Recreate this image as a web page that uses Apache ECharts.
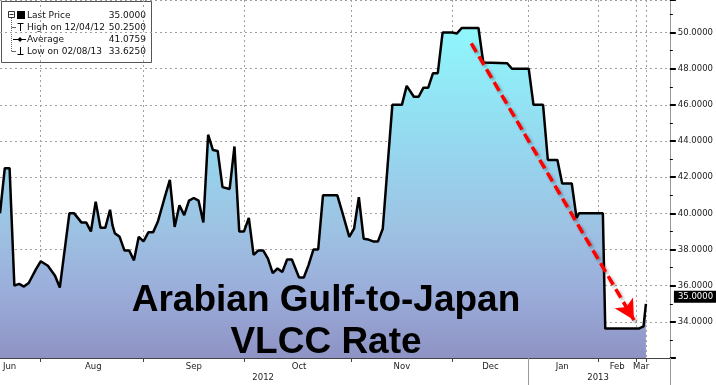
<!DOCTYPE html>
<html>
<head>
<meta charset="utf-8">
<script src="https://cdn.jsdelivr.net/npm/echarts@6/dist/echarts.min.js"></script>
<style>html,body{margin:0;padding:0;background:#fff;}#c{width:716px;height:385px;}</style>
</head>
<body>
<div id="c"></div>
<script>
// observation index along the (irregular) time axis and the rate values
const obsIndex = [0,2,4,6,8,10,12,15,17,20,23,25,29,31,34,36,38,40,42,44,46,47,48,50,52,54,56,58,60,62,64,66,69,71,73,75,77,79,81,83,85,87,89,91,93,96,98,100,102,104,106,108,110,112,114,116,118,120,122,125,127,129,131,133,135,141,143,146,148,150,152,154,156,158,160,162,164,168,170,173,175,177,179,181,183,185,189,191,193,200,202,212,214,221,223,227,229,233,235,239,241,242,252,253,267,269,270];
const rates = [40.0,42.5,42.5,36.0,36.1,35.95,36.15,36.9,37.35,37.1,36.55,35.9,40.0,40.0,39.5,39.5,39.0,40.65,39.2,39.2,40.2,39.35,38.9,38.7,37.95,37.95,37.4,38.7,38.45,38.95,38.95,39.55,40.95,41.85,39.25,40.45,39.9,40.7,40.85,40.7,39.5,44.35,43.5,43.45,41.45,41.35,43.7,39.0,39.0,39.75,37.7,37.95,37.95,37.5,36.7,36.95,36.75,37.45,37.45,36.45,36.45,37.15,38.0,38.0,41.0,41.0,40.1,38.7,39.15,40.9,38.6,38.55,38.45,38.45,39.15,42.6,46.0,46.0,47.05,46.45,46.45,46.95,46.95,47.75,47.75,50.0,50.0,49.95,50.25,50.25,48.35,48.3,48.0,48.0,46.0,46.0,42.95,42.95,41.65,41.65,39.75,40.0,40.0,33.625,33.625,33.75,35.0];
const axisLength = 281;
const monthNames = ['Jun','Aug','Sep','Oct','Nov','Dec','Jan','Feb','Mar'];
const monthLabelIdx = [4,39,81,125,168,205,235,258,268];
const monthBoundaries = [17,60,102,147,189,221,250,266,270];
const yearNames = ['2012','2013'];
const yearLabelIdx = [110,250];
const yearSeparators = [221,280];
const legendLabels = ['Last Price','High on 12/04/12','Average','Low on 02/08/13'];
const legendValues = ['35.0000','50.2500','41.0759','33.6250'];
const arrowFrom = [197, 49.4];
const arrowTo = [265, 34.1];
const titleLines = ['Arabian Gulf-to-Japan','VLCC Rate'];

const categories = Array.from({length: axisLength}, (_, i) => String(i));
const FONT = '"DejaVu Sans", sans-serif';

const chart = echarts.init(document.getElementById('c'), null, {renderer: 'canvas'});

const legendGraphics = [
  {type:'rect', shape:{x:1.5,y:1.5,width:150,height:61}, style:{fill:'#fff', stroke:'#555', lineWidth:1}},
  {type:'rect', shape:{x:8.5,y:11.5,width:6,height:6}, style:{fill:'#fff', stroke:'#333', lineWidth:1}},
  {type:'line', shape:{x1:9.5,y1:14.5,x2:13.5,y2:14.5}, style:{stroke:'#333', lineWidth:1}},
  {type:'line', shape:{x1:11.5,y1:18,x2:11.5,y2:51.5}, style:{stroke:'#666', lineWidth:1, lineDash:[1,1]}},
  {type:'line', shape:{x1:11.5,y1:27.5,x2:16,y2:27.5}, style:{stroke:'#666', lineWidth:1}},
  {type:'line', shape:{x1:11.5,y1:51.5,x2:16,y2:51.5}, style:{stroke:'#666', lineWidth:1}},
  {type:'rect', shape:{x:17,y:11,width:8,height:8}, style:{fill:'#000'}},
  {type:'line', shape:{x1:17.5,y1:23.5,x2:23.5,y2:23.5}, style:{stroke:'#000', lineWidth:1}},
  {type:'line', shape:{x1:20.5,y1:23.5,x2:20.5,y2:31}, style:{stroke:'#000', lineWidth:1}},
  {type:'line', shape:{x1:13,y1:39.5,x2:26,y2:39.5}, style:{stroke:'#000', lineWidth:1}},
  {type:'polygon', shape:{points:[[20,37],[22.5,39.5],[20,42],[17.5,39.5]]}, style:{fill:'#000'}},
  {type:'line', shape:{x1:20.5,y1:47,x2:20.5,y2:54.5}, style:{stroke:'#000', lineWidth:1}},
  {type:'line', shape:{x1:17.5,y1:54.5,x2:23.5,y2:54.5}, style:{stroke:'#000', lineWidth:1}}
];
legendLabels.forEach((t, i) => {
  const y = 15.5 + i * 12;
  legendGraphics.push({type:'text', style:{x:27, y:y, text:t, fill:'#111', font:'9px ' + FONT, textVerticalAlign:'middle'}});
  legendGraphics.push({type:'text', style:{x:146, y:y, text:legendValues[i], fill:'#111', font:'9px ' + FONT, textAlign:'right', textVerticalAlign:'middle'}});
});

const option = {
  animation: false,
  backgroundColor: '#fff',
  grid: {left: 0, right: 42, top: 0, bottom: 27, containLabel: false},
  xAxis: [
    {
      type: 'category', data: categories, boundaryGap: false,
      axisLine: {show: true, lineStyle: {color: '#444', width: 1}},
      axisTick: {show: true, interval: (i) => monthBoundaries.includes(i), length: 4, lineStyle: {color: '#444'}},
      axisLabel: {
        interval: (i) => monthLabelIdx.includes(i),
        formatter: (v, i) => { const k = monthLabelIdx.indexOf(Number(v)); return k >= 0 ? monthNames[k] : ''; },
        fontFamily: FONT, fontSize: 8.5, color: '#222', margin: 4
      },
      splitLine: {show: true, interval: (i) => monthBoundaries.includes(i), lineStyle: {color: '#a0a0a0', type: [2, 3], width: 1}}
    },
    {
      type: 'category', data: categories, boundaryGap: false, position: 'bottom',
      axisLine: {show: false},
      axisTick: {show: true, interval: (i) => yearSeparators.includes(i), length: 27, lineStyle: {color: '#999'}},
      axisLabel: {
        interval: (i) => yearLabelIdx.includes(i),
        formatter: (v) => { const k = yearLabelIdx.indexOf(Number(v)); return k >= 0 ? yearNames[k] : ''; },
        fontFamily: FONT, fontSize: 8.5, color: '#222', margin: 15
      },
      splitLine: {show: false}
    }
  ],
  yAxis: {
    type: 'value', position: 'right', min: 32, max: 51.8, interval: 2,
    axisLine: {show: true, lineStyle: {color: '#999'}},
    axisTick: {show: true, length: 6, lineStyle: {color: '#000', width: 2}},
    minorTick: {show: true, splitNumber: 2, length: 3, lineStyle: {color: '#000'}},
    axisLabel: {showMinLabel: false, showMaxLabel: false, formatter: (v) => v.toFixed(4), margin: 8, fontFamily: FONT, fontSize: 8.5, color: '#222'},
    splitLine: {show: true, lineStyle: {color: '#a0a0a0', type: [2, 3], width: 1}}
  },
  series: [{
    type: 'line',
    data: obsIndex.map((x, i) => [x, rates[i]]),
    symbol: 'none',
    lineStyle: {color: '#000', width: 2.5},
    areaStyle: {
      color: new echarts.graphic.LinearGradient(0, 0, 0, 1, [
        {offset: 0, color: '#8ff7fc'},
        {offset: 0.35, color: '#95d8ef'},
        {offset: 0.6, color: '#9dc3e3'},
        {offset: 0.8, color: '#9badda'},
        {offset: 1, color: '#8e93c4'}
      ]),
      opacity: 1
    },
    endLabel: {
      show: true,
      formatter: (p) => p.value[1].toFixed(4),
      color: '#fff', backgroundColor: '#000',
      fontFamily: FONT, fontSize: 8.5,
      padding: [2, 3, 1, 4],
      distance: 0, offset: [28, -7]
    },
    markLine: {
      silent: true,
      symbol: ['none', 'arrow'],
      symbolSize: [16, 20],
      label: {show: false},
      lineStyle: {color: '#ff0000', type: [10, 5], width: 3.5, shadowColor: 'rgba(0,0,0,0.3)', shadowBlur: 3, shadowOffsetX: 2, shadowOffsetY: 2},
      data: [[{coord: arrowFrom}, {coord: arrowTo}]]
    },
    z: 2
  }],
  graphic: [
    {type: 'text', z: 50, style: {x: 326, y: 280, text: titleLines.join('\n'), fill: '#000', font: 'bold 37px "Liberation Sans", Arial, sans-serif', textAlign: 'center', lineHeight: 42}},
    {type: 'group', z: 60, children: legendGraphics}
  ]
};
chart.setOption(option);
</script>
</body>
</html>
